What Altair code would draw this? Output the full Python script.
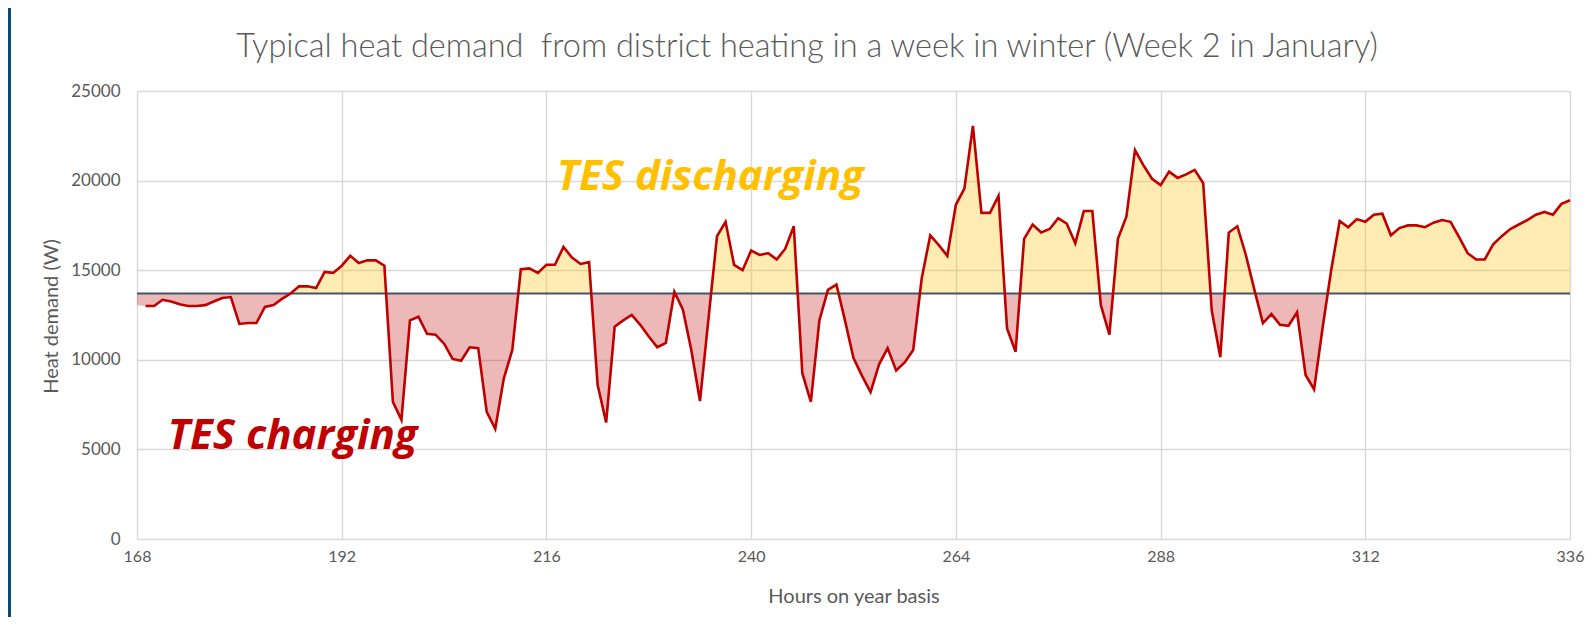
import altair as alt
import pandas as pd

# ---------------- data ----------------
hours = list(range(168, 337))
demand = [
    13050, 13000, 13000, 13350, 13250, 13100, 13000, 13000, 13050, 13250,  # 168-177
    13450, 13500, 12000, 12050, 12050, 12950, 13050, 13400, 13700, 14100,  # 178-187
    14100, 14000, 14900, 14850, 15250, 15800, 15400, 15550, 15550, 15250,  # 188-197
    7650, 6650, 12200, 12400, 11450, 11400, 10900, 10050, 9950, 10700,     # 198-207
    10650, 7100, 6150, 8950, 10550, 15050, 15100, 14850, 15300, 15300,     # 208-217
    16300, 15700, 15350, 15450, 8600, 6500, 11850, 12200, 12500, 11950,    # 218-227
    11300, 10700, 10950, 13800, 12800, 10500, 7700, 12300, 16900, 17700,   # 228-237
    15300, 15000, 16100, 15850, 15950, 15600, 16200, 17450, 9250, 7650,    # 238-247
    12200, 13900, 14200, 12200, 10100, 9100, 8200, 9750, 10650, 9400,      # 248-257
    9850, 10550, 14550, 16950, 16400, 15800, 18650, 19550, 23050, 18200,   # 258-267
    18200, 19150, 11750, 10450, 16750, 17550, 17100, 17300, 17900, 17600,  # 268-277
    16500, 18300, 18300, 13050, 11400, 16750, 18000, 21700, 20850, 20100,  # 278-287
    19750, 20500, 20150, 20350, 20600, 19850, 12750, 10150, 17100, 17450,  # 288-297
    15850, 13900, 12050, 12550, 11950, 11900, 12650, 9150, 8350, 11800,    # 298-307
    15000, 17750, 17400, 17850, 17700, 18100, 18150, 16950, 17350, 17500,  # 308-317
    17500, 17400, 17650, 17800, 17700, 16850, 15950, 15600, 15600, 16450,  # 318-327
    16900, 17300, 17550, 17800, 18100, 18250, 18100, 18700, 18900,         # 328-336
]
threshold = 13700
x_ticks = [168, 192, 216, 240, 264, 288, 312, 336]
y_ticks = [0, 5000, 10000, 15000, 20000, 25000]
title_text = "Typical heat demand\u00a0 from district heating in a week in winter (Week 2 in January)"
x_title = "Hours on year basis"
y_title = "Heat demand (W)"
annot_labels = ["TES discharging", "TES charging"]
annot_hours = [217.2, 171.6]
annot_values = [19500, 5050]
annot_colors = ["#FFC000", "#C00000"]

# ---------------- tables ----------------
line_df = pd.DataFrame({"hour": hours, "demand": demand})

# fill table: the measured points plus the exact threshold crossings of each segment
fh, fv = [], []
for i in range(len(hours)):
    if i > 0:
        v0, v1 = demand[i - 1], demand[i]
        if (v0 - threshold) * (v1 - threshold) < 0:
            t = (threshold - v0) / (v1 - v0)
            fh.append(hours[i - 1] + t)
            fv.append(threshold)
    fh.append(hours[i])
    fv.append(demand[i])
fill_df = pd.DataFrame({"hour": fh, "demand": fv})
fill_df["above"] = fill_df["demand"].clip(lower=threshold)
fill_df["below"] = fill_df["demand"].clip(upper=threshold)
fill_df["base"] = threshold

annot_df = pd.DataFrame({"hour": annot_hours, "demand": annot_values,
                         "label": annot_labels, "color": annot_colors})
thr_df = pd.DataFrame({"demand": [threshold]})
one = pd.DataFrame({"title": [title_text]})

FONT = "Lato"
GREY = "#595959"


def X(field="hour"):
    return alt.X(f"{field}:Q",
                 scale=alt.Scale(domain=[168, 336], nice=False, zero=False),
                 axis=alt.Axis(values=x_ticks, title=x_title, grid=True, format="d",
                               labelFlush=False, labelPadding=9, labelFontSize=16,
                               titleY=57, titleBaseline="middle", titleFontSize=20))


def Y(field="demand"):
    return alt.Y(f"{field}:Q",
                 scale=alt.Scale(domain=[0, 25000], nice=False),
                 axis=alt.Axis(values=y_ticks, title=y_title, grid=True, format="d",
                               labelPadding=17, labelFontSize=17,
                               titleX=-86, titleY=225,
                               titleAngle=270, titleAlign="center",
                               titleBaseline="middle", titleFontSize=20))


yellow = alt.Chart(fill_df).mark_area(color="#FFC000", opacity=0.3).encode(
    x=X(), y=Y("above"), y2="base:Q")
red = alt.Chart(fill_df).mark_area(color="#C00000", opacity=0.28).encode(
    x=X(), y=Y("below"), y2="base:Q")
thr = alt.Chart(thr_df).mark_rule(color="#44546A", strokeWidth=2.2).encode(y=Y())
line = alt.Chart(line_df).mark_line(color="#C00000", strokeWidth=2.6).encode(
    x=X(), y=Y()).transform_filter(alt.datum.hour >= 169)
texts = alt.Chart(annot_df).mark_text(
    font="Open Sans", fontSize=42, fontWeight="bold", fontStyle="italic",
    align="left", baseline="alphabetic").encode(
    x=X(), y=Y(), text="label:N", color=alt.Color("color:N", scale=None))

title = alt.Chart(one).mark_text(
    font=FONT, fontSize=32.5, fontWeight=300, color=GREY,
    align="center", baseline="alphabetic").encode(
    x=alt.value(670), y=alt.value(-34), text="title:N")

BLUE = "#0D4A72"
frame_left = alt.Chart(one).mark_rect(color=BLUE).encode(
    x=alt.value(-129), x2=alt.value(-126), y=alt.value(-83), y2=alt.value(526))

chart = alt.layer(yellow, red, thr, line, texts, title, frame_left).properties(
    width=1433, height=448,
    autosize=alt.AutoSizeParams(type="none"),
    padding={"left": 129, "top": 83, "right": 16, "bottom": 78},
).configure_view(stroke=None).configure_axis(
    domain=False, ticks=False, gridColor="#D9D9D9", gridWidth=1.4,
    labelFont=FONT, labelColor=GREY,
    titleFont=FONT, titleColor=GREY, titleFontWeight="normal",
)

chart.save("out.html", embed_options={"renderer": "svg", "actions": False})
